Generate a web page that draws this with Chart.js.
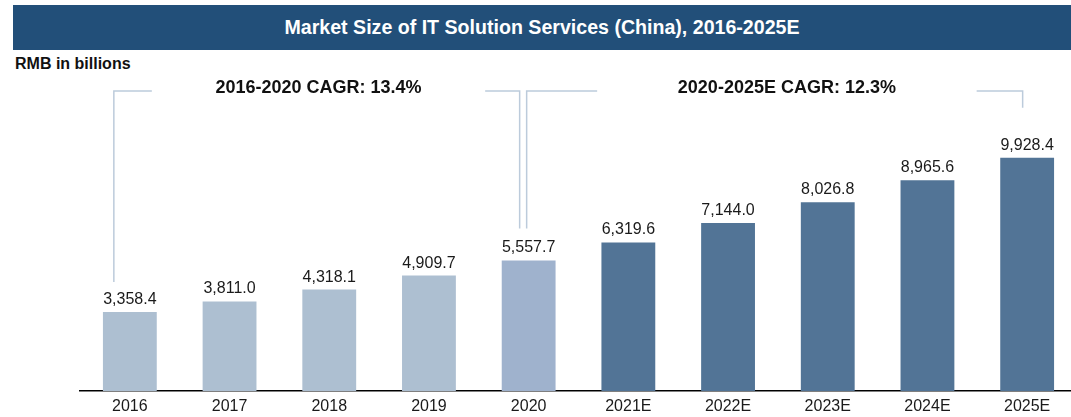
<!DOCTYPE html>
<html>
<head>
<meta charset="utf-8">
<script src="https://cdn.jsdelivr.net/npm/chart.js@4.4.1/dist/chart.umd.min.js"></script>
<style>
  html, body { margin: 0; padding: 0; background: #fff; overflow: hidden; }
  body { width: 1071px; height: 417px; position: relative; font-family: "Liberation Sans", Arial, sans-serif; }
  #head { position: absolute; left: 13px; top: 5px; width: 1058px; height: 45px; background: #224f79;
          color: #fff; font-weight: bold; font-size: 19.6px; line-height: 45px; text-align: center; }
  #unit { position: absolute; left: 15px; top: 55px; font-weight: bold; font-size: 16px; color: #111; }
  #myChart { position: absolute; left: 0; top: 0; }
</style>
</head>
<body>
<div id="head">Market Size of IT Solution Services (China), 2016-2025E</div>
<div id="unit">RMB in billions</div>
<canvas id="myChart" width="1080" height="417"></canvas>
<script>
var years = ["2016","2017","2018","2019","2020","2021E","2022E","2023E","2024E","2025E"];
var marketSize = [3358.4, 3811.0, 4318.1, 4909.7, 5557.7, 6319.6, 7144.0, 8026.8, 8965.6, 9928.4];
var cagrLabels = ["2016-2020 CAGR: 13.4%", "2020-2025E CAGR: 12.3%"];

// styles
var lightBlue = "#adbfd1", midBlue = "#9fb2cd", darkBlue = "#527496";
var barColors = years.map(function(y, i){
    if (y.indexOf("E") > -1) return darkBlue;
    return i == 4 ? midBlue : lightBlue;
});

var valueLabels = {
    id: "valueLabels",
    afterDatasetsDraw: function(chart){
        var ctx = chart.ctx;
        var meta = chart.getDatasetMeta(0);
        ctx.save();
        ctx.font = "16px 'Liberation Sans', Arial, sans-serif";
        ctx.fillStyle = "#1a1a1a";
        ctx.textAlign = "center";
        ctx.textBaseline = "alphabetic";
        meta.data.forEach(function(bar, i){
            var txt = marketSize[i].toLocaleString("en-US", {minimumFractionDigits: 1, maximumFractionDigits: 1});
            ctx.fillText(txt, bar.x, bar.y - 8);
        });
        ctx.restore();
    }
};

var brackets = {
    id: "brackets",
    afterDatasetsDraw: function(chart){
        var ctx = chart.ctx, x = chart.scales.x, y = chart.scales.y;
        var top = 91;
        function cx(i){ return x.getPixelForValue(i); }
        function cy(i){ return y.getPixelForValue(marketSize[i]); }
        ctx.save();
        ctx.strokeStyle = "#bccbdb";
        ctx.lineWidth = 1.5;
        ctx.font = "bold 18px 'Liberation Sans', Arial, sans-serif";
        ctx.fillStyle = "#111";
        ctx.textAlign = "center";
        ctx.textBaseline = "middle";

        // arms: index, x offset, drop above bar top, length of the flat arm
        function bracket(a, b, label){
            var x0 = cx(a[0]) + a[1], x1 = cx(b[0]) + b[1];
            var g0 = x0 + a[3], g1 = x1 - b[3];
            ctx.beginPath();
            ctx.moveTo(x0, cy(a[0]) - a[2]);
            ctx.lineTo(x0, top);
            ctx.lineTo(g0, top);
            ctx.moveTo(g1, top);
            ctx.lineTo(x1, top);
            ctx.lineTo(x1, cy(b[0]) - b[2]);
            ctx.stroke();
            ctx.fillText(label, (g0 + g1) / 2, top - 3);
        }
        bracket([0, -16, 30, 38], [4, -9, 32, 34.5], cagrLabels[0]);
        bracket([4, -2, 32, 70.5], [9, -4.5, 50, 46], cagrLabels[1]);
        ctx.restore();
    }
};

var ctx = document.getElementById("myChart").getContext("2d");
var myChart = new Chart(ctx, {
    type: "bar",
    data: {
        labels: years,
        datasets: [{data: marketSize, backgroundColor: barColors, borderWidth: 0,
                    categoryPercentage: 1, barPercentage: 0.54}]
    },
    options: {
        responsive: false,
        animation: false,
        layout: {padding: {left: 80, right: 3, top: 62, bottom: 0}},
        plugins: {legend: {display: false}, tooltip: {enabled: false}, title: {display: false}},
        scales: {
            x: {
                grid: {display: false, drawTicks: false},
                border: {display: true, color: "#000", width: 1.5},
                ticks: {color: "#1a1a1a", padding: 6, font: {size: 16, family: "'Liberation Sans', Arial, sans-serif"}},
                afterFit: function(s){ s.height = 26; }
            },
            y: {display: false, min: 0, max: 14000}
        }
    },
    plugins: [valueLabels, brackets]
});
</script>
</body>
</html>
